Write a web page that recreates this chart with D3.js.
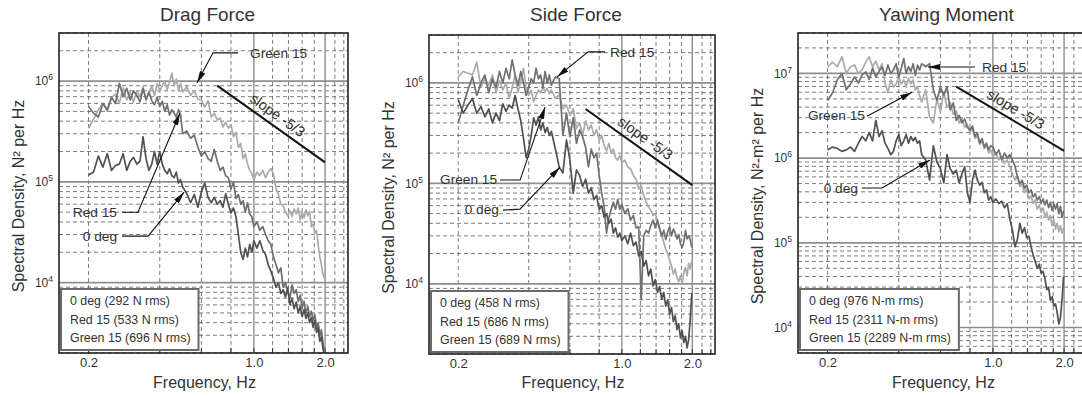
<!DOCTYPE html>
<html><head><meta charset="utf-8">
<script src="https://cdn.jsdelivr.net/npm/d3@7"></script>
<style>
body{margin:0;background:#fff;}
svg{display:block;font-family:"Liberation Sans",Arial,Helvetica,sans-serif;}
</style></head><body>
<svg id="chart" width="1082" height="396"></svg>
<script>
// ---------------- DATA ----------------
const freq = [
 0.20,0.21,0.22,0.23,0.24,0.25,0.26,0.27,0.28,0.29,0.30,0.31,0.32,0.33,0.34,0.35,0.36,0.37,0.38,0.39,0.40,0.41,0.42,0.43,0.44,0.45,0.46,0.47,0.48,0.49,0.50,
 0.52,0.54,0.56,0.58,0.60,0.62,0.64,0.66,0.68,0.70,0.72,0.74,0.76,0.78,0.80,0.82,0.84,0.86,0.88,0.90,0.92,0.94,0.96,0.98,1.00,
 1.03,1.06,1.09,1.12,1.15,1.18,1.21,1.24,1.27,1.30,1.33,1.36,1.39,1.42,1.45,1.48,1.51,1.54,1.57,1.60,1.63,1.66,1.69,1.72,1.75,1.78,1.81,1.84,1.87,1.90,1.93,1.96,1.99
];

// Drag force spectra, N^2 per Hz
const dragGreen15 = [
 3.4e5,4.2e5,5.2e5,6.0e5,5.0e5,6.8e5,7.4e5,6.0e5,8.6e5,6.5e5,7.8e5,6.2e5,8.0e5,7.0e5,8.8e5,6.4e5,7.6e5,8.9e5,7.2e5,9.5e5,8.0e5,9.0e5,1.0e6,8.2e5,9.8e5,1.2e6,9.0e5,1.05e6,8.0e5,9.5e5,7.8e5,
 8.8e5,7.2e5,8.0e5,6.6e5,6.5e5,5.5e5,6.4e5,4.4e5,4.8e5,4.1e5,4.3e5,3.5e5,3.9e5,3.4e5,3.7e5,2.8e5,3.1e5,2.2e5,2.4e5,1.7e5,1.9e5,1.5e5,1.3e5,1.2e5,1.05e5,
 1.25e5,1.15e5,1.3e5,1.1e5,1.25e5,1.35e5,1.2e5,8.5e4,7.5e4,6.0e4,5.8e4,5.0e4,4.6e4,5.2e4,4.5e4,5.4e4,4.8e4,5.5e4,4.2e4,5.0e4,4.4e4,5.3e4,4.6e4,5.1e4,3.6e4,3.8e4,3.1e4,3.3e4,2.4e4,1.8e4,1.5e4,1.2e4,1.1e4
];
const dragRed15 = [
 5.6e5,4.8e5,4.4e5,6.0e5,5.2e5,6.9e5,6.0e5,9.5e5,7.0e5,8.5e5,6.5e5,8.0e5,7.2e5,6.2e5,8.4e5,6.6e5,7.8e5,6.4e5,5.8e5,6.9e5,5.6e5,6.3e5,5.0e5,5.8e5,4.6e5,5.2e5,4.8e5,4.4e5,5.2e5,4.6e5,3.0e5,
 3.2e5,2.7e5,2.9e5,2.2e5,1.8e5,2.0e5,1.7e5,1.6e5,2.1e5,1.6e5,1.3e5,1.4e5,1.15e5,1.1e5,8.5e4,1.0e5,6.8e4,7.5e4,6.0e4,6.5e4,5.0e4,6.2e4,4.8e4,4.5e4,3.6e4,
 4.0e4,3.3e4,3.6e4,3.0e4,2.6e4,2.4e4,1.8e4,1.5e4,1.25e4,1.4e4,9.0e3,1.0e4,8.2e3,7.0e3,9.5e3,7.8e3,8.5e3,6.5e3,7.5e3,5.6e3,6.5e3,5.0e3,5.8e3,4.6e3,5.2e3,4.2e3,4.8e3,3.6e3,4.0e3,3.0e3,3.4e3,2.5e3,2.0e3
];
const dragDeg0 = [
 1.17e5,1.25e5,1.8e5,1.4e5,1.9e5,1.3e5,1.45e5,1.5e5,1.9e5,1.3e5,1.6e5,1.75e5,1.5e5,1.6e5,2.8e5,1.7e5,1.3e5,1.5e5,2.0e5,1.5e5,2.0e5,1.5e5,1.3e5,1.2e5,1.35e5,1.15e5,1.1e5,1.25e5,9.7e4,1.05e5,8.9e4,
 7.7e4,6.2e4,7.5e4,5.6e4,8.0e4,9.7e4,7.0e4,6.2e4,7.0e4,6.0e4,6.5e4,5.6e4,7.6e4,6.0e4,4.9e4,5.5e4,4.5e4,3.0e4,2.0e4,1.7e4,2.2e4,1.8e4,2.4e4,2.0e4,2.6e4,
 2.2e4,2.6e4,2.1e4,1.9e4,1.5e4,1.3e4,1.1e4,9.0e3,1.0e4,7.8e3,8.5e3,7.2e3,8.8e3,6.0e3,7.0e3,5.5e3,6.4e3,5.0e3,5.8e3,4.6e3,5.4e3,4.4e3,5.0e3,4.0e3,4.5e3,3.6e3,4.2e3,3.2e3,3.6e3,2.6e3,2.9e3,2.2e3,1.9e3
];

// Side force spectra, N^2 per Hz
const sideGreen15 = [
 1.15e6,1.3e6,1.25e6,1.2e6,1.6e6,9.0e5,1.1e6,9.5e5,1.2e6,8.0e5,1.05e6,8.5e5,1.0e6,7.0e5,9.0e5,1.2e6,8.0e5,1.05e6,1.4e6,9.0e5,7.5e5,8.5e5,6.5e5,7.5e5,8.5e5,8.0e5,9.0e5,8.2e5,8.8e5,7.8e5,8.5e5,
 7.0e5,7.6e5,5.5e5,6.0e5,4.8e5,5.5e5,3.5e5,4.0e5,3.0e5,4.2e5,3.4e5,3.8e5,3.0e5,3.4e5,2.7e5,3.0e5,2.4e5,2.1e5,2.5e5,2.0e5,2.2e5,1.8e5,1.7e5,1.9e5,1.6e5,
 1.7e5,1.45e5,1.4e5,1.2e5,1.1e5,8.8e4,9.5e4,7.5e4,6.6e4,5.8e4,5.4e4,4.8e4,5.0e4,4.2e4,3.6e4,3.0e4,2.6e4,2.2e4,2.0e4,1.7e4,1.5e4,1.25e4,1.4e4,1.15e4,1.05e4,1.2e4,1.0e4,1.3e4,1.45e4,1.2e4,1.6e4,1.4e4,1.7e4
];
const sideRed15 = [
 4.0e5,6.0e5,8.5e5,1.15e6,7.5e5,1.0e6,1.2e6,8.0e5,1.1e6,9.0e5,1.3e6,1.0e6,1.4e6,1.1e6,1.7e6,1.2e6,9.5e5,1.3e6,1.0e6,7.5e5,9.0e5,1.1e6,1.0e6,1.4e6,1.1e6,1.2e6,9.0e5,1.3e6,1.0e6,1.2e6,9.5e5,
 1.15e6,1.1e6,3.0e5,5.0e5,2.9e5,4.5e5,2.5e5,3.4e5,2.9e5,2.3e5,1.46e5,2.2e5,1.8e5,2.0e5,1.2e5,8.0e4,5.9e4,3.2e4,4.5e4,5.5e4,6.5e4,5.5e4,6.9e4,5.5e4,6.2e4,
 5.0e4,5.6e4,4.3e4,4.8e4,3.6e4,3.7e4,6.9e3,3.0e4,3.4e4,3.2e4,3.8e4,4.3e4,3.6e4,4.3e4,3.5e4,3.0e4,3.4e4,2.75e4,3.3e4,3.7e4,3.0e4,3.5e4,3.2e4,2.8e4,3.1e4,2.5e4,2.3e4,2.6e4,3.4e4,2.8e4,3.0e4,2.75e4,2.3e4
];
const sideDeg0 = [
 6.8e5,5.0e5,6.0e5,7.0e5,5.0e5,5.8e5,4.6e5,5.5e5,4.0e5,5.0e5,4.2e5,6.2e5,5.2e5,6.0e5,5.6e5,7.5e5,5.5e5,4.2e5,2.8e5,1.8e5,2.2e5,3.0e5,4.5e5,3.8e5,4.6e5,3.4e5,4.0e5,3.2e5,3.6e5,3.0e5,3.3e5,
 2.2e5,1.45e5,1.27e5,2.7e5,1.7e5,8.0e4,1.36e5,1.2e5,9.3e4,1.1e5,8.0e4,9.0e4,6.9e4,7.6e4,5.5e4,6.0e4,4.6e4,5.0e4,4.0e4,4.4e4,3.2e4,3.6e4,2.9e4,3.2e4,2.7e4,
 3.0e4,2.5e4,3.2e4,2.4e4,2.6e4,1.9e4,2.1e4,1.5e4,1.7e4,1.2e4,1.4e4,9.5e3,1.1e4,8.2e3,9.4e3,7.0e3,8.2e3,6.0e3,6.9e3,5.0e3,5.8e3,4.2e3,4.8e3,3.5e3,4.0e3,2.9e3,3.4e3,2.6e3,3.0e3,2.3e3,2.8e3,4.5e3,8.0e3
];

// Yawing moment spectra, N^2-m^2 per Hz
const yawGreen15 = [
 1.19e7,1.36e7,1.2e7,1.57e7,1.0e7,1.2e7,1.26e7,1.0e7,1.1e7,1.36e7,1.57e7,1.2e7,1.4e7,1.1e7,1.3e7,7.7e6,5.9e6,8.4e6,6.9e6,7.5e6,9.1e6,7.5e6,8.4e6,6.9e6,8.8e6,7.5e6,8.4e6,6.4e6,7.0e6,5.5e6,4.6e6,
 6.4e6,3.05e6,2.6e6,5.0e6,3.5e6,6.0e6,4.0e6,4.5e6,3.3e6,3.6e6,2.6e6,2.9e6,2.3e6,2.5e6,2.0e6,2.2e6,1.7e6,1.85e6,1.45e6,1.6e6,1.3e6,1.4e6,1.15e6,1.25e6,1.05e6,
 1.15e6,9.5e5,1.05e6,8.7e5,9.5e5,7.9e5,6.5e5,5.5e5,6.0e5,4.6e5,5.0e5,3.9e5,4.3e5,3.3e5,3.6e5,2.9e5,3.2e5,2.5e5,2.8e5,2.3e5,2.6e5,2.0e5,2.3e5,1.85e5,2.1e5,1.6e5,1.9e5,1.45e5,1.7e5,1.35e5,1.6e5,1.3e5,1.5e5
];
const yawRed15 = [
 4.8e6,5.9e6,8.4e6,1.0e7,6.4e6,7.5e6,9.1e6,7.7e6,9.6e6,1.04e7,8.5e6,1.16e7,9.1e6,1.05e7,1.19e7,9.5e6,1.26e7,1.0e7,1.1e7,1.3e7,9.0e6,1.15e7,1.5e7,1.0e7,1.2e7,1.05e7,1.3e7,9.5e6,1.25e7,1.1e7,1.3e7,
 1.2e7,1.3e7,6.4e6,4.8e6,6.9e6,5.5e6,7.0e6,3.7e6,4.5e6,2.8e6,3.2e6,2.6e6,2.9e6,2.3e6,2.15e6,2.4e6,1.8e6,2.0e6,1.5e6,1.7e6,1.35e6,1.5e6,1.25e6,1.4e6,1.35e6,
 1.1e6,1.25e6,9.5e5,1.15e6,1.0e6,1.1e6,9.5e5,8.0e5,6.0e5,5.0e5,5.5e5,4.4e5,4.8e5,3.9e5,4.2e5,3.5e5,3.8e5,3.2e5,3.5e5,2.95e5,3.3e5,2.8e5,3.2e5,2.6e5,3.0e5,2.4e5,2.9e5,2.5e5,2.9e5,2.2e5,2.7e5,2.0e5,2.4e5
];
const yawDeg0 = [
 1.25e6,1.35e6,1.3e6,1.2e6,1.25e6,1.35e6,1.2e6,1.5e6,1.8e6,1.6e6,2.0e6,1.6e6,2.8e6,1.8e6,2.1e6,1.5e6,1.3e6,1.1e6,1.2e6,1.6e6,1.9e6,1.4e6,1.6e6,1.9e6,1.5e6,1.8e6,1.6e6,1.75e6,1.5e6,1.6e6,1.1e6,
 9.5e5,5.5e5,1.4e6,9.0e5,7.5e5,5.1e5,1.1e6,7.5e5,6.5e5,7.2e5,5.1e5,6.5e5,7.9e5,3.9e5,3.0e5,5.5e5,7.2e5,5.5e5,4.8e5,5.2e5,3.9e5,4.2e5,3.2e5,3.5e5,3.0e5,
 3.3e5,2.9e5,3.1e5,2.6e5,2.9e5,1.9e5,1.4e5,9.0e4,1.1e5,1.7e5,1.3e5,1.5e5,1.15e5,1.2e5,9.0e4,7.2e4,6.0e4,5.0e4,5.6e4,4.4e4,4.6e4,3.8e4,2.8e4,3.0e4,2.1e4,2.3e4,1.8e4,1.9e4,1.5e4,1.1e4,1.3e4,2.1e4,4.0e4
];

// Reference slope -5/3 lines: [freq, density]
const dragSlope = [[0.7, 9.0e5], [2.0, 1.56e5]];
const sideSlope = [[0.7, 5.5e5], [2.0, 9.6e4]];
const yawSlope  = [[0.7, 7.0e6], [2.0, 1.22e6]];

// Legend labels
const dragLegend = ["0 deg (292 N rms)", "Red 15 (533 N rms)", "Green 15 (696 N rms)"];
const sideLegend = ["0 deg (458 N rms)", "Red 15 (686 N rms)", "Green 15 (689 N rms)"];
const yawLegend  = ["0 deg (976 N-m rms)", "Red 15 (2311 N-m rms)", "Green 15 (2289 N-m rms)"];

// Callout labels and the point each arrow marks: [label, freq, density]
const dragCallouts = [["Green 15", 0.575, 9.6e5], ["Red 15", 0.487, 4.8e5], ["0 deg", 0.507, 7.9e4]];
const sideCallouts = [["Red 15", 0.529, 1.15e6], ["Green 15", 0.47, 5.75e5], ["0 deg", 0.544, 1.45e5]];
const yawCallouts  = [["Red 15", 0.532, 1.19e7], ["Green 15", 0.455, 6.0e6], ["0 deg", 0.542, 9.5e5]];

// Ticks
const xTickValues = [0.2, 1.0, 2.0];
const xTickLabels = ["0.2", "1.0", "2.0"];
const xGridDashed = [0.2, 0.4, 0.6, 0.8, 1.2, 1.4, 1.6, 1.8, 2.2, 2.4];
const xGridSolid = [1.0, 2.0];
const forceYTicks = [1e4, 1e5, 1e6];
const yawYTicks = [1e4, 1e5, 1e6, 1e7];
const panelTitles = ["Drag Force", "Side Force", "Yawing Moment"];
const yTitles = ["Spectral Density, N\u00B2 per Hz", "Spectral Density, N\u00B2 per Hz", "Spectral Density, N\u00B2-m\u00B2 per Hz"];
const xTitle = "Frequency, Hz";

// ---------------- LAYOUT / STYLE ----------------
const colors = {deg0: "#515151", red: "#707070", green: "#ababab"};
const xDomain = [0.15, 2.5];
// callout layout: offsets in px from arrow tip: start, elbow, text pos, anchor
const calloutLayout = [
  [ {s:[41,-30], e:[16,-30], t:[53,-25], a:"start"}, {s:[-58,99], e:[-42,99], t:[-63,104], a:"end"}, {s:[-62,44], e:[-36,44], t:[-67,49], a:"end"} ],
  [ {s:[48,-25], e:[31,-25], t:[53,-20], a:"start"}, {s:[-45,73], e:[-25,73], t:[-48,77], a:"end"}, {s:[-57,43], e:[-40,42], t:[-61,47], a:"end"} ],
  [ {s:[47,0], e:[47,0], t:[54,5], a:"start"}, {s:[-45,24], e:[-45,24], t:[-47,28], a:"end"}, {s:[-68,28], e:[-48,28], t:[-72,33], a:"end"} ]
];

const panels = [
  {left:59, top:33, w:289, h:320, yDom:[2000, 3e6], yTicks:forceYTicks, series:[[dragGreen15,colors.green],[dragRed15,colors.red],[dragDeg0,colors.deg0]], slope:dragSlope, legend:dragLegend, callouts:dragCallouts},
  {left:429, top:35, w:286, h:319, yDom:[2000, 3e6], yTicks:forceYTicks, series:[[sideGreen15,colors.green],[sideRed15,colors.red],[sideDeg0,colors.deg0]], slope:sideSlope, legend:sideLegend, callouts:sideCallouts},
  {left:798, top:33, w:289, h:320, yDom:[5000, 3e7], yTicks:yawYTicks, series:[[yawGreen15,colors.green],[yawRed15,colors.red],[yawDeg0,colors.deg0]], slope:yawSlope, legend:yawLegend, callouts:yawCallouts}
];

const svg = d3.select("#chart");
const defs = svg.append("defs");
defs.append("marker").attr("id","arrowhead").attr("viewBox","0 0 12 6")
  .attr("refX",12).attr("refY",3).attr("markerWidth",12).attr("markerHeight",6)
  .attr("markerUnits","userSpaceOnUse").attr("orient","auto")
  .append("path").attr("d","M0,0L12,3L0,6Z").attr("fill","#111");

panels.forEach((p, pi) => {
  const x = d3.scaleLog().domain(xDomain).range([0, p.w]);
  const y = d3.scaleLog().domain(p.yDom).range([p.h, 0]);
  const g = svg.append("g").attr("transform", `translate(${p.left},${p.top})`);
  defs.append("clipPath").attr("id", "clip" + pi).append("rect").attr("width", p.w).attr("height", p.h);

  // horizontal grid
  const yVals = y.ticks(20).filter(v => v >= p.yDom[0]*0.999 && v <= p.yDom[1]*1.001);
  const isMajor = v => Math.abs(Math.log10(v) - Math.round(Math.log10(v))) < 1e-6;
  g.append("g").selectAll("line").data(yVals.filter(v => !isMajor(v))).join("line")
    .attr("x1",0).attr("x2",p.w).attr("y1",d=>y(d)).attr("y2",d=>y(d))
    .attr("stroke","#5a5a5a").attr("stroke-width",0.8).attr("stroke-dasharray","4,3");
  // vertical grid
  g.append("g").selectAll("line").data(xGridDashed.filter(v => v > xDomain[0] && v < xDomain[1])).join("line")
    .attr("x1",d=>x(d)).attr("x2",d=>x(d)).attr("y1",0).attr("y2",p.h)
    .attr("stroke","#5a5a5a").attr("stroke-width",0.8).attr("stroke-dasharray","4,3");
  g.append("g").selectAll("line").data(yVals.filter(isMajor)).join("line")
    .attr("x1",0).attr("x2",p.w).attr("y1",d=>y(d)).attr("y2",d=>y(d))
    .attr("stroke","#8e8e8e").attr("stroke-width",1.7);
  g.append("g").selectAll("line").data(xGridSolid).join("line")
    .attr("x1",d=>x(d)).attr("x2",d=>x(d)).attr("y1",0).attr("y2",p.h)
    .attr("stroke","#8e8e8e").attr("stroke-width",1.4);
  // small bottom ticks
  g.append("g").selectAll("line").data(xGridSolid.concat(xGridDashed)).join("line")
    .attr("x1",d=>x(d)).attr("x2",d=>x(d)).attr("y1",p.h).attr("y2",p.h-5)
    .attr("stroke","#333").attr("stroke-width",1);

  // series
  const line = d3.line().defined(d => d[1] != null && !isNaN(d[1])).x(d => x(d[0])).y(d => y(d[1]));
  const sg = g.append("g").attr("clip-path", `url(#clip${pi})`);
  p.series.forEach(([vals, col]) => {
    sg.append("path").datum(freq.map((f, i) => [f, vals[i]]))
      .attr("d", line).attr("fill","none").attr("stroke",col)
      .attr("stroke-width",1.7).attr("stroke-linejoin","round");
  });

  // slope line
  sg.append("path").datum(p.slope).attr("d", line).attr("fill","none").attr("stroke","#111").attr("stroke-width",2);
  const [a, b] = p.slope.map(d => [x(d[0]), y(d[1])]);
  const dx = b[0]-a[0], dy = b[1]-a[1], len = Math.hypot(dx, dy);
  const nx = dy/len, ny = -dx/len;
  const ang = Math.atan2(dy, dx) * 180 / Math.PI;
  const mx = (a[0]+b[0])/2 + nx*6, my = (a[1]+b[1])/2 + ny*6;
  g.append("text").attr("transform", `translate(${mx},${my}) rotate(${ang})`)
    .attr("text-anchor","middle").attr("font-size",14.5).attr("fill","#333").text("slope -5/3");

  // frame
  g.append("rect").attr("width",p.w).attr("height",p.h).attr("fill","none").attr("stroke","#222").attr("stroke-width",1.6);

  // axes
  const xa = g.append("g").attr("transform", `translate(0,${p.h})`)
    .call(d3.axisBottom(x).tickValues(xTickValues).tickFormat((d,i) => xTickLabels[i]).tickSize(0).tickPadding(5));
  xa.select(".domain").remove();
  xa.attr("font-family", null).attr("font-size", 13);
  xa.selectAll("text").attr("fill","#333");

  const ya = g.append("g").call(d3.axisLeft(y).tickValues(p.yTicks).tickSize(0).tickPadding(6).tickFormat(() => ""));
  ya.select(".domain").remove();
  ya.attr("font-family", null).attr("font-size", 12);
  ya.selectAll("text").attr("fill","#333").each(function(d) {
    const t = d3.select(this);
    t.append("tspan").text("10");
    t.append("tspan").attr("dy", -5).attr("font-size", 8.5).text(String(Math.round(Math.log10(d))));
  });

  // titles
  svg.append("text").attr("x", p.left + p.w/2 + 4).attr("y", 21).attr("text-anchor","middle")
    .attr("font-size",19).attr("fill","#333").text(panelTitles[pi]);
  svg.append("text").attr("x", p.left + p.w/2 + 1).attr("y", 388).attr("text-anchor","middle")
    .attr("font-size",16).attr("fill","#333").text(xTitle);
  svg.append("text").attr("transform", `translate(${p.left - 35},${p.top + p.h/2 + 3}) rotate(-90)`)
    .attr("text-anchor","middle").attr("font-size",16).attr("fill","#333").text(yTitles[pi]);

  // legend box
  const lg = g.append("g").attr("transform", `translate(2,${256})`);
  const lr = lg.append("rect").attr("fill","#fff").attr("stroke","#6a6a6a").attr("stroke-width",2);
  const base = [16, 34.5, 53];
  let maxW = 0;
  p.legend.forEach((s, i) => {
    const t = lg.append("text").attr("x", 9).attr("y", base[i]).attr("font-size",12.4).attr("fill","#333").text(s);
    maxW = Math.max(maxW, t.node().getComputedTextLength());
  });
  lr.attr("width", maxW + 17).attr("height", 61);

  // callouts
  p.callouts.forEach((c, i) => {
    const L = calloutLayout[pi][i];
    const tx = x(c[1]), ty = y(c[2]);
    const pts = [[tx+L.s[0], ty+L.s[1]], [tx+L.e[0], ty+L.e[1]], [tx, ty]];
    g.append("path").attr("d", d3.line()(pts)).attr("fill","none").attr("stroke","#111")
      .attr("stroke-width",1.1).attr("marker-end","url(#arrowhead)");
    g.append("text").attr("x", tx+L.t[0]).attr("y", ty+L.t[1]).attr("text-anchor", L.a)
      .attr("font-size",13.7).attr("fill","#333").text(c[0]);
  });
});
</script>
</body></html>
